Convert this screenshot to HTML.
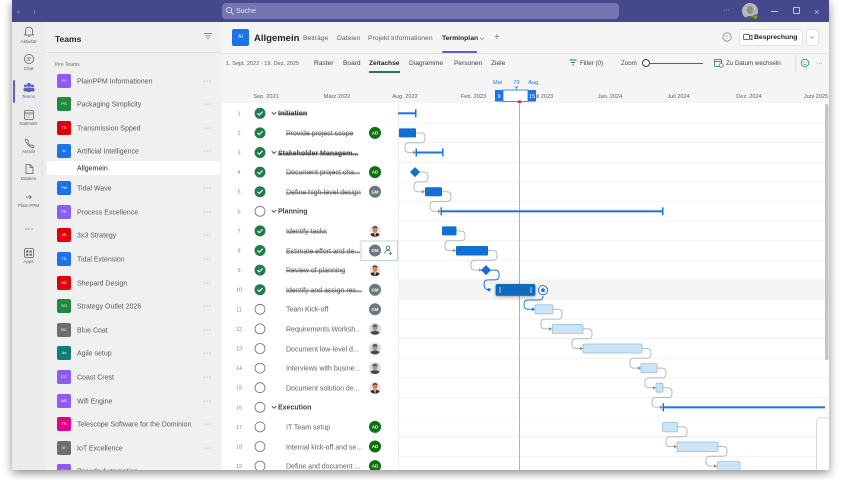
<!DOCTYPE html>
<html><head><meta charset="utf-8">
<style>
*{margin:0;padding:0;box-sizing:border-box}
html,body{width:853px;height:480px;overflow:hidden;background:#fff;font-family:"Liberation Sans",Arial,sans-serif}
.a{position:absolute}
.t{position:absolute;white-space:nowrap;line-height:10px;height:10px;transform:translateY(1px)}
.tl{font-size:7px;color:#5a5a5a;transform:translateY(1.5px)}
.ic{position:absolute;left:57px;width:14px;height:14px;border-radius:2px;color:#fff;font-size:4px;line-height:14px;text-align:center}
.dots{position:absolute;left:203px;font-size:7px;color:#777;line-height:10px;letter-spacing:0.5px;transform:translateY(1px)}
.rl{position:absolute;left:12px;width:33px;text-align:center;font-size:4.5px;color:#616161;line-height:6px}
.tk{position:absolute;left:286px;font-size:7px;color:#616161;line-height:10px;white-space:nowrap;transform:translateY(1.5px)}
.st{text-decoration:line-through}
.sm{left:278px;font-weight:bold;color:#424242}
</style></head><body>
<div class="a" style="left:12px;top:0;width:817px;height:470px;box-shadow:0 3px 9px rgba(0,0,0,.45);background:#f5f5f5"></div>
<div class="a" style="left:0;top:0;width:853px;height:470px;overflow:hidden">
<!-- top bar -->
<div class="a" style="left:12px;top:0;width:817px;height:22px;background:#46488e"></div>
<div class="t" style="left:17px;top:6px;font-size:8px;color:#9fa1d2">&#8249;</div>
<div class="t" style="left:33px;top:6px;font-size:8px;color:#9fa1d2">&#8250;</div>
<div class="a" style="left:222px;top:3px;width:397px;height:16px;background:#7476b2;border-radius:4px"></div>
<svg class="a" style="left:225px;top:6px" width="10" height="10"><circle cx="4" cy="4" r="2.6" fill="none" stroke="#dcdcf0" stroke-width="0.9"/><path d="M6 6 L8.5 8.5" stroke="#dcdcf0" stroke-width="0.9"/></svg>
<div class="t" style="left:236px;top:6px;font-size:7px;color:#e2e2f2">Suche</div>
<div class="t" style="left:723px;top:5px;font-size:7px;color:#b9bad9">···</div>
<svg class="a" style="left:741px;top:2px" width="20" height="20"><defs><clipPath id="ca"><circle cx="9" cy="9" r="8"/></clipPath></defs><g clip-path="url(#ca)"><rect width="20" height="20" fill="#b8b8b8"/><ellipse cx="9" cy="8" rx="3.2" ry="4" fill="#8d8d8d"/><path d="M1 18 Q9 10 17 18Z" fill="#555"/></g><circle cx="14.5" cy="15" r="2.2" fill="#6bb700" stroke="#46488e" stroke-width="0.8"/></svg>
<div class="a" style="left:771px;top:11px;width:7px;height:1px;background:#c5c6e2"></div>
<div class="a" style="left:793px;top:7px;width:7px;height:7px;border:1px solid #c5c6e2;border-radius:1px"></div>
<div class="t" style="left:814px;top:6px;font-size:9px;color:#c5c6e2">×</div>

<!-- rail -->
<div class="a" style="left:12px;top:22px;width:33px;height:448px;background:#ebebeb"></div>
<div class="a" style="left:13px;top:80px;width:2px;height:23px;background:#5b5fc7;border-radius:1px"></div>
<svg class="a" style="left:12px;top:22px" width="33" height="250" viewBox="12 22 33 250">
<g fill="none" stroke="#616161" stroke-width="0.8">
<path d="M25.5 34 V30.5 a3.5 3.5 0 0 1 7 0 V34 l1 1 H24.5 Z"/><path d="M28 36.2 h2"/>
<circle cx="29" cy="59" r="4.6"/><path d="M26.8 58 h4.4 M26.8 60.2 h3"/>
<rect x="24.5" y="110.5" width="9" height="9" rx="1.5"/><path d="M24.5 113 h9"/>
<path d="M26 139 q-1 1 0 3 q2 4 6 5.5 q1.5 0.3 2 -1 l-1.5 -1.5 q-1 0 -1.5 0.5 q-2 -1 -3 -3 q0.5 -0.5 0.5 -1.5 l-1.5 -1.5 q-0.6 -0.4 -1 -0.5z"/>
<path d="M26 164.5 h4 l3 3 v6 h-7 z M30 164.5 v3 h3"/>
<rect x="24.5" y="248.5" width="9" height="9" rx="1.5"/>
</g>
<g fill="#616161"><circle cx="27" cy="114.8" r="0.5"/><circle cx="29" cy="114.8" r="0.5"/><circle cx="31" cy="114.8" r="0.5"/><circle cx="27" cy="117" r="0.5"/><circle cx="29" cy="117" r="0.5"/>
<rect x="26.2" y="250.5" width="2.2" height="2" /><rect x="29.6" y="250.5" width="2.2" height="2"/><rect x="26.2" y="253.7" width="2.2" height="2"/><rect x="29.6" y="253.7" width="2.2" height="2"/>
<circle cx="26" cy="229" r="0.6"/><circle cx="29" cy="229" r="0.6"/><circle cx="32" cy="229" r="0.6"/>
<path d="M26 197 h5 M29.5 195.3 l1.8 1.7 l-1.8 1.7" stroke="#616161" stroke-width="0.8" fill="none"/></g>
<g fill="#5b5fc7"><circle cx="29" cy="85" r="2"/><circle cx="25.5" cy="86" r="1.5"/><circle cx="32.5" cy="86" r="1.5"/><rect x="26.5" y="87.5" width="5" height="4.5" rx="1.5"/><rect x="23.5" y="88" width="3.5" height="3.5" rx="1.2"/><rect x="31" y="88" width="3.5" height="3.5" rx="1.2"/></g>
</svg>
<div class="rl" style="top:39px">Aktivität</div>
<div class="rl" style="top:66px">Chat</div>
<div class="rl" style="top:94px;color:#5b5fc7">Teams</div>
<div class="rl" style="top:121px">Kalender</div>
<div class="rl" style="top:149px">Anrufe</div>
<div class="rl" style="top:176px">Dateien</div>
<div class="rl" style="top:203px">Plain PPM</div>
<div class="rl" style="top:259px">Apps</div>

<!-- team panel -->
<div class="a" style="left:45px;top:22px;width:176px;height:448px;background:#f0f0f0"></div>
<div class="t" style="left:55px;top:33px;font-size:8.5px;font-weight:bold;color:#242424">Teams</div>
<svg class="a" style="left:203px;top:32px" width="10" height="8"><path d="M1 1.5h8 M2.5 4h5 M4 6.5h2" stroke="#888" stroke-width="0.9"/></svg>
<div class="a" style="left:45px;top:52px;width:176px;height:1px;background:#e0e0e0"></div>
<div class="t" style="left:55px;top:59px;font-size:5px;color:#707070">Ihre Teams</div>
<div class="a" style="left:47px;top:161px;width:173px;height:14px;background:#fff;border-radius:2px"></div>
<div class="t tl" style="left:77px;top:163px;color:#242424">Allgemein</div>

<div class="ic" style="top:74px;background:#8b5cf6">PI</div><div class="t tl" style="left:77px;top:76px">PlainPPM Informationen</div><div class="dots" style="top:76px">···</div>
<div class="ic" style="top:97px;background:#1f8a3e">PS</div><div class="t tl" style="left:77px;top:99px">Packaging Simplicity</div><div class="dots" style="top:99px">···</div>
<div class="ic" style="top:121px;background:#e3000b">TS</div><div class="t tl" style="left:77px;top:123px">Transmission Spped</div><div class="dots" style="top:123px">···</div>
<div class="ic" style="top:144px;background:#1a73e8">AI</div><div class="t tl" style="left:77px;top:146px">Artificial Intelligence</div><div class="dots" style="top:146px">···</div>
<div class="ic" style="top:181px;background:#1a73e8">TW</div><div class="t tl" style="left:77px;top:183px">Tidal Wave</div><div class="dots" style="top:183px">···</div>
<div class="ic" style="top:205px;background:#8b5cf6">PE</div><div class="t tl" style="left:77px;top:207px">Process Excellence</div><div class="dots" style="top:207px">···</div>
<div class="ic" style="top:228px;background:#e3000b">3S</div><div class="t tl" style="left:77px;top:230px">3x3 Strategy</div><div class="dots" style="top:230px">···</div>
<div class="ic" style="top:252px;background:#1a73e8">TE</div><div class="t tl" style="left:77px;top:254px">Tidal Extension</div><div class="dots" style="top:254px">···</div>
<div class="ic" style="top:276px;background:#e3000b">SD</div><div class="t tl" style="left:77px;top:278px">Shepard Design</div><div class="dots" style="top:278px">···</div>
<div class="ic" style="top:299px;background:#1f8a3e">SO</div><div class="t tl" style="left:77px;top:301px">Strategy Outlet 2026</div><div class="dots" style="top:301px">···</div>
<div class="ic" style="top:323px;background:#6e6e6e">BC</div><div class="t tl" style="left:77px;top:325px">Blue Coat</div><div class="dots" style="top:325px">···</div>
<div class="ic" style="top:346px;background:#0f7b7b">As</div><div class="t tl" style="left:77px;top:348px">Agile setup</div><div class="dots" style="top:348px">···</div>
<div class="ic" style="top:370px;background:#8b5cf6">CC</div><div class="t tl" style="left:77px;top:372px">Coast Crest</div><div class="dots" style="top:372px">···</div>
<div class="ic" style="top:394px;background:#8b5cf6">WE</div><div class="t tl" style="left:77px;top:396px">Wifi Engine</div><div class="dots" style="top:396px">···</div>
<div class="ic" style="top:417px;background:#e3008c">TS</div><div class="t tl" style="left:77px;top:419px">Telescope Software for the Dominion</div><div class="dots" style="top:419px">···</div>
<div class="ic" style="top:441px;background:#6e6e6e">IE</div><div class="t tl" style="left:77px;top:443px">IoT Excellence</div><div class="dots" style="top:443px">···</div>
<div class="ic" style="top:464px;background:#8b5cf6">PA</div><div class="t tl" style="left:77px;top:466px">Pseudo Automation</div>

<!-- main header -->
<div class="a" style="left:221px;top:22px;width:608px;height:82px;background:#f5f5f5"></div>
<div class="a" style="left:221px;top:53px;width:608px;height:1px;background:#e3e3e3"></div>
<div class="a" style="left:232px;top:29px;width:17px;height:17px;background:#1a73e8;border-radius:2px;color:#fff;font-size:5px;line-height:17px;text-align:center">AI</div>
<div class="t" style="left:254px;top:32px;font-size:9.5px;font-weight:bold;color:#242424;line-height:11px">Allgemein</div>
<div class="t" style="left:303px;top:33px;font-size:6.8px;color:#616161">Beiträge</div>
<div class="t" style="left:337px;top:33px;font-size:6.8px;color:#616161">Dateien</div>
<div class="t" style="left:368px;top:33px;font-size:6.8px;color:#616161">Projekt Informationen</div>
<div class="t" style="left:442px;top:33px;font-size:6.8px;color:#242424;font-weight:bold">Terminplan</div>
<svg class="a" style="left:479px;top:36px" width="6" height="5"><path d="M1 1.5 l2 2 l2 -2" fill="none" stroke="#888" stroke-width="0.7"/></svg>
<div class="t" style="left:494px;top:32px;font-size:10px;color:#777">+</div>
<div class="a" style="left:442px;top:51px;width:35px;height:2px;background:#5b5fc7;border-radius:1px"></div>
<svg class="a" style="left:721px;top:31px" width="12" height="12"><circle cx="6" cy="6" r="4.2" fill="none" stroke="#888" stroke-width="0.8"/><path d="M4.5 5 h3 M4.5 7 h2" stroke="#888" stroke-width="0.6"/></svg>
<div class="a" style="left:739px;top:29px;width:64px;height:17px;background:#fff;border:1px solid #e0e0e0;border-radius:3px"></div>
<svg class="a" style="left:743px;top:33px" width="10" height="9"><rect x="0.5" y="1.5" width="6" height="5" rx="1" fill="none" stroke="#424242" stroke-width="0.8"/><path d="M6.5 3.5 l2.5 -1.3 v4.6 l-2.5 -1.3" fill="none" stroke="#424242" stroke-width="0.8"/></svg>
<div class="t" style="left:754px;top:32px;font-size:6.8px;font-weight:bold;color:#242424">Besprechung</div>
<div class="a" style="left:806px;top:29px;width:13px;height:17px;background:#fff;border:1px solid #e0e0e0;border-radius:3px"></div>
<svg class="a" style="left:809px;top:35px" width="6" height="5"><path d="M1 1.5 l2 2 l2 -2" fill="none" stroke="#888" stroke-width="0.7"/></svg>

<!-- toolbar -->
<div class="t" style="left:226px;top:58px;font-size:5.6px;color:#616161">1. Sept. 2022 - 19. Dez. 2025</div>
<div class="t" style="left:314px;top:58px;font-size:6.6px;color:#424242">Raster</div>
<div class="t" style="left:343px;top:58px;font-size:6.6px;color:#424242">Board</div>
<div class="t" style="left:369px;top:58px;font-size:6.6px;color:#242424;font-weight:bold">Zeitachse</div>
<div class="a" style="left:369px;top:71px;width:31px;height:1.5px;background:#237b4b"></div>
<div class="t" style="left:409px;top:58px;font-size:6.6px;color:#424242">Diagramme</div>
<div class="t" style="left:454px;top:58px;font-size:6.6px;color:#424242">Personen</div>
<div class="t" style="left:491px;top:58px;font-size:6.6px;color:#424242">Ziele</div>
<svg class="a" style="left:569px;top:59px" width="9" height="8"><path d="M0.5 1h7 M2 3.5h4 M3.2 6h1.6" stroke="#237b4b" stroke-width="0.9"/></svg>
<div class="t" style="left:580px;top:58px;font-size:6.2px;color:#424242">Filter (0)</div>
<div class="t" style="left:621px;top:58px;font-size:6.2px;color:#424242">Zoom</div>
<div class="a" style="left:649px;top:62.5px;width:54px;height:1.3px;background:#616161"></div>
<div class="a" style="left:642px;top:59px;width:8px;height:8px;border-radius:50%;background:#fff;border:1px solid #424242"></div>
<svg class="a" style="left:714px;top:58px" width="10" height="10"><rect x="0.5" y="1.5" width="7" height="7" rx="1" fill="none" stroke="#237b4b" stroke-width="0.8"/><path d="M0.5 3.5h7" stroke="#237b4b" stroke-width="0.8"/><circle cx="7.3" cy="7.3" r="2" fill="#f5f5f5" stroke="#237b4b" stroke-width="0.7"/></svg>
<div class="t" style="left:726px;top:58px;font-size:6.2px;color:#424242">Zu Datum wechseln</div>
<div class="a" style="left:795px;top:55px;width:1px;height:17px;background:#e0e0e0"></div>
<svg class="a" style="left:800px;top:58px" width="10" height="10"><circle cx="5" cy="5" r="3.8" fill="none" stroke="#3aa05a" stroke-width="0.9"/><circle cx="3.7" cy="4.2" r="0.5" fill="#3aa05a"/><circle cx="6.3" cy="4.2" r="0.5" fill="#3aa05a"/><path d="M3.3 6 q1.7 1.5 3.4 0" fill="none" stroke="#3aa05a" stroke-width="0.7"/></svg>
<div class="t" style="left:816px;top:58px;font-size:7px;color:#616161">···</div>

<!-- timeline header -->
<svg class="a" style="left:222px;top:73px" width="607" height="31" viewBox="222 73 607 31" font-family="Liberation Sans, Arial, sans-serif">
<g font-size="5.6" fill="#616161" text-anchor="middle">
<text x="266" y="98">Sep. 2021</text><text x="337" y="98">März 2022</text><text x="405" y="98">Aug. 2022</text><text x="473.5" y="98">Feb. 2023</text><text x="542" y="98">Juli 2023</text><text x="610" y="98">Jan. 2024</text><text x="678.5" y="98">Juli 2024</text><text x="749" y="98">Dez. 2024</text><text x="816" y="98">Juni 2025</text>
</g>
<g font-size="5.6" fill="#1a73e8" text-anchor="middle"><text x="497.5" y="84">Mai</text><text x="516.5" y="84">70</text><text x="534" y="84">Aug.</text></g>
<path d="M514.5 87 h4 M516.5 87 v2.5" stroke="#1a73e8" stroke-width="0.7"/>
<rect x="503" y="90" width="25" height="11.5" fill="#fff" stroke="#1a73e8" stroke-width="0.8"/>
<rect x="495" y="90" width="8" height="11.5" fill="#1a73e8"/>
<rect x="528" y="90" width="8" height="11.5" fill="#1a73e8"/>
<g font-size="5.6" fill="#fff" text-anchor="middle"><text x="499" y="98">9</text><text x="532" y="98">15</text></g>
<circle cx="519.5" cy="102" r="1.8" fill="#d13438"/>
</svg>

<!-- list & gantt -->
<div class="a" style="left:222px;top:103px;width:607px;height:367px;background:#fff"></div>
<div class="a" style="left:398px;top:103px;width:1px;height:367px;background:#ececec"></div>

<svg class="a" style="left:398px;top:103px" width="431" height="367" viewBox="398 103 431 367">
<rect x="398" y="279.9" width="431" height="19.6" fill="#f6f5f4"/>
<g stroke="#f0f0f0" stroke-width="0.8">
<path d="M398 123.1H829M398 142.7H829M398 162.3H829M398 181.9H829M398 201.5H829M398 221.1H829M398 240.7H829M398 260.3H829M398 279.9H829M398 299.5H829M398 319.1H829M398 338.7H829M398 358.3H829M398 377.9H829M398 397.5H829M398 417.1H829M398 436.7H829M398 456.3H829"/>
</g>
<line x1="519.5" y1="103" x2="519.5" y2="470" stroke="#f08a8a" stroke-width="0.9"/>
<g fill="none" stroke="#b9b9b9" stroke-width="1">
<path d="M416 132.9 h5 q4 0 4 4 v1.8 q0 4 -4 4 H409 q-4 0 -4 4 v1.8 q0 4 4 4 H416"/>
<path d="M419 172.1 h5 q4 0 4 4 v1.8 q0 4 -4 4 H418 q-4 0 -4 4 v1.8 q0 4 4 4 H425"/>
<path d="M442 191.7 h5 q4 0 4 4 v1.8 q0 4 -4 4 H434 q-4 0 -4 4 v1.8 q0 4 4 4 H441"/>
<path d="M456 230.9 h5 q4 0 4 4 v1.8 q0 4 -4 4 H449 q-4 0 -4 4 v1.8 q0 4 4 4 H456"/>
<path d="M488 250.5 h5 q4 0 4 4 v1.8 q0 4 -4 4 H475 q-4 0 -4 4 v1.8 q0 4 4 4 H482"/>
<path d="M553 309.3 h5 q4 0 4 4 v1.8 q0 4 -4 4 H545 q-4 0 -4 4 v1.8 q0 4 4 4 H552"/>
<path d="M583 328.9 h5 q4 0 4 4 v1.8 q0 4 -4 4 H576 q-4 0 -4 4 v1.8 q0 4 4 4 H583"/>
<path d="M642 348.5 h5 q4 0 4 4 v1.8 q0 4 -4 4 H634 q-4 0 -4 4 v1.8 q0 4 4 4 H641"/>
<path d="M657 368.1 h5 q4 0 4 4 v1.8 q0 4 -4 4 H649 q-4 0 -4 4 v1.8 q0 4 4 4 H656"/>
<path d="M663 387.7 h5 q4 0 4 4 v1.8 q0 4 -4 4 H656 q-4 0 -4 4 v1.8 q0 4 4 4 H663"/>
<path d="M678 426.9 h5 q4 0 4 4 v1.8 q0 4 -4 4 H670 q-4 0 -4 4 v1.8 q0 4 4 4 H677"/>
<path d="M718 446.5 h5 q4 0 4 4 v1.8 q0 4 -4 4 H710 q-4 0 -4 4 v1.8 q0 4 4 4 H717"/>
</g>
<g fill="#8a8a8a">
<path d="M413 150.7 l3 1.8 l-3 1.8z"/><path d="M422 189.9 l3 1.8 l-3 1.8z"/><path d="M438 209.5 l3 1.8 l-3 1.8z"/><path d="M453 248.7 l3 1.8 l-3 1.8z"/><path d="M479 268.3 l3 1.8 l-3 1.8z"/>
<path d="M549 327.1 l3 1.8 l-3 1.8z"/><path d="M580 346.7 l3 1.8 l-3 1.8z"/><path d="M638 366.3 l3 1.8 l-3 1.8z"/><path d="M653 385.9 l3 1.8 l-3 1.8z"/><path d="M660 405.5 l3 1.8 l-3 1.8z"/><path d="M674 444.7 l3 1.8 l-3 1.8z"/><path d="M714 464.3 l3 1.8 l-3 1.8z"/>
</g>
<g fill="none" stroke="#1a73e8" stroke-width="1">
<path d="M490 270.1 h5 q4 0 4 4 v1.8 q0 4 -4 4 H488 q-4 0 -4 4 q0 5.8 5 5.8"/>
<path d="M543 296 q0 4 -4 4 H528 q-4 0 -4 4 v1.3 q0 4 4 4 H535"/>
</g>
<path d="M532 307.5 l3 1.8 l-3 1.8z" fill="#1a73e8"/>
<circle cx="489" cy="289.7" r="1.6" fill="#1a73e8"/>
<g fill="#1a73e8">
<rect x="398" y="112.3" width="18" height="2"/><rect x="415" y="109.3" width="1.5" height="8"/>
<rect x="416" y="151.5" width="27" height="2"/><rect x="415.5" y="148.5" width="1.5" height="8"/><rect x="442" y="148.5" width="1.5" height="8"/>
<rect x="441" y="210.3" width="222" height="2"/><rect x="440.5" y="207.3" width="1.5" height="8"/><rect x="662" y="207.3" width="1.5" height="8"/>
<rect x="663" y="406.3" width="162" height="2"/><rect x="662.5" y="403.3" width="1.5" height="8"/>
</g>
<g fill="#0f6fd2">
<rect x="399" y="128.4" width="17" height="9" rx="1"/>
<rect x="425" y="187.2" width="17" height="9" rx="1"/>
<rect x="442" y="226.4" width="14.5" height="9" rx="1"/>
<rect x="456" y="246" width="32" height="9.5" rx="1"/>
<path d="M415 167.1 l5 5 l-5 5 l-5 -5z"/>
<path d="M486 265.1 l5 5 l-5 5 l-5 -5z"/>
</g>
<rect x="496" y="284.4" width="39" height="11" rx="1" fill="#0f6cbd" stroke="#0b5aa6" stroke-width="0.6" style="filter:drop-shadow(0 1px 1.5px rgba(0,0,0,.35))"/>
<path d="M500 287 v6 M531 287 v6" stroke="#fff" stroke-width="0.7"/>
<circle cx="543" cy="290.2" r="4.6" fill="#fff" stroke="#1a73e8" stroke-width="1"/><circle cx="543" cy="290.2" r="1.9" fill="#1a73e8"/>
<g fill="#cde3f6" stroke="#8fc0ec" stroke-width="0.8">
<rect x="535" y="304.8" width="18" height="9" rx="1.2"/>
<rect x="552.5" y="324.4" width="30.5" height="9" rx="1.2"/>
<rect x="583" y="344" width="59" height="9" rx="1.2"/>
<rect x="641" y="363.6" width="16" height="9" rx="1.2"/>
<rect x="656" y="383.2" width="7" height="9" rx="1.2"/>
<rect x="662.5" y="422.4" width="15" height="9.5" rx="1.2"/>
<rect x="677" y="442" width="41" height="9.5" rx="1.2"/>
<rect x="717.5" y="461.6" width="22.5" height="9.5" rx="1.2"/>
</g>
<rect x="825" y="104" width="3.5" height="256" rx="1.7" fill="#c4c4c4"/>
<rect x="816.5" y="418" width="14" height="60" rx="4" fill="#fff" stroke="#cfcfcf" stroke-width="0.8"/>
</svg>

<svg class="a" style="left:222px;top:103px" width="176" height="367" viewBox="222 103 176 367" font-family="Liberation Sans, Arial, sans-serif">
<defs>
<g id="ok"><circle r="5.5" fill="#237b4b"/><path d="M-2.5 0 l1.8 1.8 l3.3 -3.5" fill="none" stroke="#fff" stroke-width="1.1"/></g>
<g id="no"><circle r="5" fill="none" stroke="#707070" stroke-width="0.8"/></g>
<g id="cv"><path d="M-2.2 -1.2 l2.2 2.2 l2.2 -2.2" fill="none" stroke="#424242" stroke-width="0.9"/></g>
<g id="ad"><circle r="6" fill="#0e700e"/><text y="1.6" font-size="4.3" font-weight="bold" fill="#fff" text-anchor="middle">AD</text></g>
<g id="gm"><circle r="6" fill="#69797e"/><text y="1.6" font-size="4.3" font-weight="bold" fill="#fff" text-anchor="middle">GM</text></g>
<clipPath id="cc"><circle r="6"/></clipPath>
<g id="ph"><g clip-path="url(#cc)"><rect x="-6" y="-6" width="12" height="12" fill="#ece6df"/><path d="M-6 6 Q-5 2 0 2 Q5 2 6 6Z" fill="#2d2d2d"/><path d="M-1.2 2 L0 6 L1.2 2Z" fill="#fff"/><path d="M-0.5 2.3 L0 5 L0.5 2.3Z" fill="#c0282d"/><ellipse cx="0" cy="-1.2" rx="2.5" ry="3.2" fill="#c98a66"/><path d="M-2.6 -2 Q-2.5 -4.6 0 -4.6 Q2.6 -4.6 2.6 -2 Q1.5 -3.5 0 -3.3 Q-1.5 -3.5 -2.6 -2Z" fill="#3a2a22"/></g></g>
<g id="gp"><g clip-path="url(#cc)"><rect x="-6" y="-6" width="12" height="12" fill="#dcdcdc"/><path d="M-6 6 Q-5 2 0 2 Q5 2 6 6Z" fill="#4a4a4a"/><ellipse cx="0" cy="-1" rx="2.5" ry="3.1" fill="#9a9a9a"/><path d="M-2.6 -2 Q-2.5 -4.5 0 -4.5 Q2.6 -4.5 2.6 -2Z" fill="#5a5a5a"/></g></g>
</defs>
<g font-size="5.5" fill="#8a8a8a" text-anchor="middle">
<text x="239" y="115.3">1</text><text x="239" y="134.9">2</text><text x="239" y="154.5">3</text><text x="239" y="174.1">4</text><text x="239" y="193.7">5</text><text x="239" y="213.3">6</text><text x="239" y="232.9">7</text><text x="239" y="252.5">8</text><text x="239" y="272.1">9</text><text x="239" y="291.7">10</text><text x="239" y="311.3">11</text><text x="239" y="330.9">12</text><text x="239" y="350.5">13</text><text x="239" y="370.1">14</text><text x="239" y="389.7">15</text><text x="239" y="409.3">16</text><text x="239" y="428.9">17</text><text x="239" y="448.5">18</text><text x="239" y="468.1">19</text>
</g>
<use href="#ok" x="260" y="113.3"/><use href="#ok" x="260" y="132.9"/><use href="#ok" x="260" y="152.5"/><use href="#ok" x="260" y="172.1"/><use href="#ok" x="260" y="191.7"/><use href="#no" x="260" y="211.3"/><use href="#ok" x="260" y="230.9"/><use href="#ok" x="260" y="250.5"/><use href="#ok" x="260" y="270.1"/><use href="#ok" x="260" y="289.7"/><use href="#no" x="260" y="309.3"/><use href="#no" x="260" y="328.9"/><use href="#no" x="260" y="348.5"/><use href="#no" x="260" y="368.1"/><use href="#no" x="260" y="387.7"/><use href="#no" x="260" y="407.3"/><use href="#no" x="260" y="426.9"/><use href="#no" x="260" y="446.5"/><use href="#no" x="260" y="466.1"/>
<use href="#cv" x="274" y="113.3"/><use href="#cv" x="274" y="152.5"/><use href="#cv" x="274" y="211.3"/><use href="#cv" x="274" y="407.3"/>
<rect x="361" y="241" width="36.5" height="19.5" fill="#fff" stroke="#a9d5ad" stroke-width="0.8"/>
<use href="#ad" x="375" y="132.9"/><use href="#ad" x="375" y="172.1"/><use href="#gm" x="375" y="191.7"/><use href="#ph" x="375" y="230.9"/><use href="#gm" x="375" y="250.5"/><use href="#ph" x="375" y="270.1"/><use href="#gm" x="375" y="289.7"/><use href="#gm" x="375" y="309.3"/><use href="#gp" x="375" y="328.9"/><use href="#gp" x="375" y="348.5"/><use href="#gp" x="375" y="368.1"/><use href="#ph" x="375" y="387.7"/><use href="#ad" x="375" y="426.9"/><use href="#ad" x="375" y="446.5"/><use href="#ad" x="375" y="466.1"/>
<g fill="none" stroke="#237b4b" stroke-width="0.8"><circle cx="388" cy="247.8" r="1.8"/><path d="M384.8 253.5 q0 -3 3.2 -3 q1.5 0 2.3 0.8"/><path d="M390.5 252 v3 M389 253.5 h3"/></g>
</svg>

<div class="tk sm st" style="top:108.3px">Initiation</div>
<div class="tk st" style="top:127.9px">Provide project scope</div>
<div class="tk sm st" style="top:147.5px">Stakeholder Managem...</div>
<div class="tk st" style="top:167.1px">Document project cha...</div>
<div class="tk st" style="top:186.7px">Define high-level design</div>
<div class="tk sm" style="top:206.3px">Planning</div>
<div class="tk st" style="top:225.9px">Identify tasks</div>
<div class="tk st" style="top:245.5px">Estimate effort and de...</div>
<div class="tk st" style="top:265.1px">Review of planning</div>
<div class="tk st" style="top:284.7px">Identify and assign res...</div>
<div class="tk" style="top:304.3px">Team Kick-off</div>
<div class="tk" style="top:323.9px">Requirements Worksh...</div>
<div class="tk" style="top:343.5px">Document low-level d...</div>
<div class="tk" style="top:363.1px">Interviews with busine...</div>
<div class="tk" style="top:382.7px">Document solution de...</div>
<div class="tk sm" style="top:402.3px">Execution</div>
<div class="tk" style="top:421.9px">IT Team setup</div>
<div class="tk" style="top:441.5px">Internal kick-off and se...</div>
<div class="tk" style="top:461.1px">Define and document ...</div>
</div>
</body></html>
